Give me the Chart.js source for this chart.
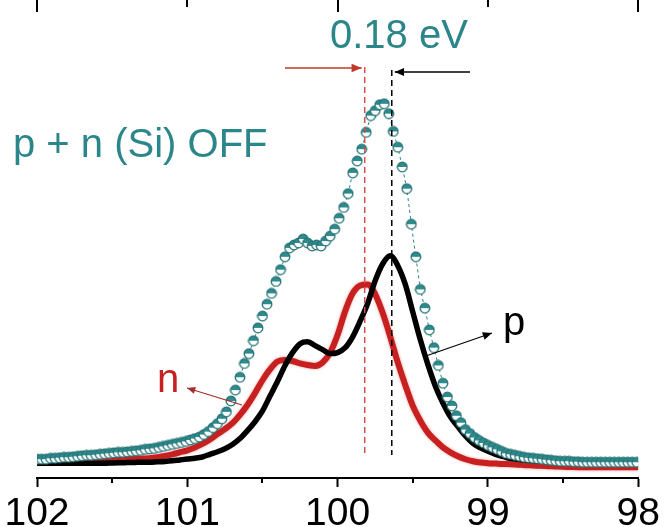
<!DOCTYPE html>
<html>
<head>
<meta charset="utf-8">
<script src="https://cdn.jsdelivr.net/npm/chart.js@4.4.0/dist/chart.umd.min.js"></script>
<style>
  html, body { margin: 0; padding: 0; background: #fff; }
  canvas { display: block; }
</style>
</head>
<body>
<canvas id="chart" width="664" height="527"></canvas>
<script>
// binding energy range (eV), axis reversed
const beMin = 98;
const beMax = 102;
const beTicks = [102, 101, 100, 99, 98];

// measured spectrum p + n (Si) OFF, sampled every 0.03 eV starting at 102 eV
const measStart = 102;
const measStep = 0.03;
const measured = [
  19, 19, 19, 20, 20, 20.5, 21, 21, 21.5, 22, 22.5, 23, 23, 23.5, 24, 24.5, 25, 25.5, 26, 26,
  26.5, 27, 27.5, 28, 29, 29.5, 30, 31, 32, 33, 34, 35, 36, 37, 38.5, 40, 41.5, 44, 47, 51,
  55, 60, 67, 78, 89, 102, 116, 126, 139, 152, 164, 176, 187, 199, 211, 224, 233, 236, 238, 242,
  238, 235, 236, 235, 240, 245, 252, 263, 274, 288, 309, 321, 333, 350, 367, 372, 378, 379, 369, 351,
  335, 315, 293, 257, 224, 191, 172, 150, 132, 114, 96, 82, 73, 63, 56, 49, 45, 41, 38, 35.5,
  33, 31, 29, 27, 25, 24, 23, 22, 21, 20.5, 20, 19.5, 19, 18.5, 18, 17.5, 17, 17, 17, 16.5,
  16.5, 16, 16, 16, 16, 16, 16, 16, 16, 16, 16, 16, 16, 16
];

// fitted components, sampled every 0.05 eV starting at 102 eV
const fitStart = 102;
const fitStep = 0.05;
const pFit = [
  15, 15, 15, 15, 15, 15, 15, 15, 15, 15, 15.3, 15.5, 15.6, 15.7, 16, 16, 16.4, 16.8, 17.4, 18.3,
  19.2, 20, 21.3, 24, 26.6, 29.7, 34, 40, 48, 57, 68, 83, 98, 114, 127, 136, 138, 134, 130, 126,
  127, 132, 143, 159, 177, 200, 217, 225, 215, 196, 168, 140, 115, 93, 76, 62, 52, 42.5, 35, 30.5,
  27, 24, 21.8, 19.8, 19, 18, 17.5, 17, 16.7, 16.2, 16, 15.8, 15.6, 15.4, 15.2, 15, 14.8, 14.6, 14.4, 14.2,
  14
];
const nFit = [
  17, 17, 17, 17.2, 17.3, 17.4, 17.5, 17.7, 18, 18.1, 18.3, 18.5, 19, 19.3, 19.7, 20, 21, 22.4, 24, 26,
  28, 31, 34.5, 39, 44.5, 49.5, 55.5, 64, 74, 86, 99, 110, 118, 119.5, 118.5, 116, 114.5, 113.5, 117, 127,
  145, 169, 187, 195, 196, 186, 167, 143, 117, 94, 73, 58, 46, 38, 31, 26, 22, 19, 17, 15.7,
  15, 14.6, 14.2, 14, 13.5, 13, 12.7, 12.3, 12, 11.7, 11.4, 11.2, 11, 11, 11, 11, 11, 11, 11, 11,
  11
];

// peak positions marked by dashed lines
const nPeak = 99.82;
const pPeak = 99.64;

const teal = '#2a8688';
const red = '#c62020';

const measData = measured.map((v, i) => ({ x: measStart - measStep * i, y: v }));
const pData = pFit.map((v, i) => ({ x: fitStart - fitStep * i, y: v }));
const nData = nFit.map((v, i) => ({ x: fitStart - fitStep * i, y: v }));

// half filled circle marker
function makeMarker() {
  const c = document.createElement('canvas');
  c.width = 12; c.height = 12;
  const g = c.getContext('2d');
  g.beginPath();
  g.arc(6, 6, 4.8, 0, Math.PI * 2);
  g.fillStyle = '#fff';
  g.fill();
  g.beginPath();
  g.arc(6, 6, 4.8, Math.PI, Math.PI * 2);
  g.closePath();
  g.fillStyle = '#2e8a8c';
  g.fill();
  g.beginPath();
  g.arc(6, 6, 4.8, 0, Math.PI * 2);
  g.lineWidth = 1.3;
  g.strokeStyle = '#237274';
  g.stroke();
  return c;
}
const marker = makeMarker();

function arrow(ctx, x1, y1, x2, y2, color, w, head) {
  ctx.save();
  ctx.strokeStyle = color;
  ctx.fillStyle = color;
  ctx.lineWidth = w;
  ctx.setLineDash([]);
  ctx.beginPath();
  ctx.moveTo(x1, y1);
  ctx.lineTo(x2, y2);
  ctx.stroke();
  const a = Math.atan2(y2 - y1, x2 - x1);
  ctx.beginPath();
  ctx.moveTo(x2, y2);
  ctx.lineTo(x2 - head * Math.cos(a - 0.4), y2 - head * Math.sin(a - 0.4));
  ctx.lineTo(x2 - head * Math.cos(a + 0.4), y2 - head * Math.sin(a + 0.4));
  ctx.closePath();
  ctx.fill();
  ctx.restore();
}

const glow = {
  id: 'glow',
  beforeDatasetDraw(chart, args) {
    if (args.index === 2) {
      chart.ctx.save();
      chart.ctx.shadowColor = 'rgba(235,70,70,0.55)';
      chart.ctx.shadowBlur = 3;
    }
  },
  afterDatasetDraw(chart, args) {
    if (args.index === 2) chart.ctx.restore();
  }
};

const extras = {
  id: 'extras',
  afterDraw(chart) {
    const ctx = chart.ctx;
    const xs = chart.scales.x;
    const bottom = chart.chartArea.bottom;

    // top frame ticks
    ctx.save();
    ctx.strokeStyle = '#000';
    ctx.lineWidth = 2;
    beTicks.forEach(v => {
      const px = Math.round(xs.getPixelForValue(v));
      const len = (v % 2 === 0) ? 12 : 7;
      ctx.beginPath();
      ctx.moveTo(px, 0);
      ctx.lineTo(px, len);
      ctx.stroke();
    });
    // minor ticks on bottom axis
    [101.5, 100.5, 99.5, 98.5].forEach(v => {
      const px = Math.round(xs.getPixelForValue(v));
      ctx.beginPath();
      ctx.moveTo(px, bottom);
      ctx.lineTo(px, bottom + 5);
      ctx.stroke();
    });
    ctx.restore();

    // dashed peak markers
    ctx.save();
    ctx.lineWidth = 1.5;
    ctx.setLineDash([6, 4]);
    ctx.strokeStyle = '#d0504a';
    let px = xs.getPixelForValue(nPeak);
    ctx.beginPath(); ctx.moveTo(px, 67); ctx.lineTo(px, 455); ctx.stroke();
    ctx.strokeStyle = '#000';
    px = xs.getPixelForValue(pPeak);
    ctx.beginPath(); ctx.moveTo(px, 70); ctx.lineTo(px, 455); ctx.stroke();
    ctx.restore();

    // shift arrows
    arrow(ctx, 285, 68, xs.getPixelForValue(nPeak) - 3, 68, '#c0392b', 1.6, 11);
    arrow(ctx, 470, 72, xs.getPixelForValue(pPeak) + 3, 72, '#000', 1.3, 10);
    arrow(ctx, 423, 357, 492, 333, '#000', 1.3, 10);
    arrow(ctx, 242, 405, 187, 388, '#a0302c', 1.3, 9);

    // labels
    ctx.save();
    ctx.textBaseline = 'alphabetic';
    ctx.textAlign = 'left';
    ctx.font = '40px "Liberation Sans", Arial, sans-serif';
    ctx.fillStyle = teal;
    ctx.fillText('0.18 eV', 330, 48);
    ctx.fillText('p + n (Si) OFF', 13, 157);
    ctx.fillStyle = '#000';
    ctx.fillText('p', 503, 335);
    ctx.fillStyle = red;
    ctx.fillText('n', 157, 392);
    ctx.restore();
  }
};

const ctx = document.getElementById('chart').getContext('2d');
const myChart = new Chart(ctx, {
  type: 'line',
  data: {
    datasets: [
      {
        label: 'p + n (Si) OFF',
        data: measData,
        borderColor: teal,
        borderWidth: 1,
        borderDash: [3, 3],
        pointStyle: marker,
        pointRadius: 5,
        tension: 0
      },
      {
        label: 'p',
        data: pData,
        borderColor: '#000',
        borderWidth: 5.5,
        pointRadius: 0,
        cubicInterpolationMode: 'monotone'
      },
      {
        label: 'n',
        data: nData,
        borderColor: red,
        borderWidth: 6,
        pointRadius: 0,
        cubicInterpolationMode: 'monotone'
      }
    ]
  },
  options: {
    responsive: false,
    animation: false,
    devicePixelRatio: 1,
    layout: { padding: { left: 37, right: 23, top: 0, bottom: 0 } },
    scales: {
      x: {
        type: 'linear',
        reverse: true,
        min: beMin,
        max: beMax,
        border: { display: true, color: '#000', width: 2 },
        grid: { drawOnChartArea: false, drawTicks: true, tickLength: 9, tickColor: '#000', tickWidth: 2 },
        ticks: {
          stepSize: 1,
          color: '#000',
          padding: 4,
          font: { family: '"Liberation Sans", Arial, sans-serif', size: 39 },
          maxRotation: 0
        },
        afterFit(scale) { scale.height = 49; }
      },
      y: {
        display: false,
        min: 0,
        max: 478
      }
    },
    plugins: {
      legend: { display: false },
      tooltip: { enabled: false }
    }
  },
  plugins: [glow, extras]
});
</script>
</body>
</html>
